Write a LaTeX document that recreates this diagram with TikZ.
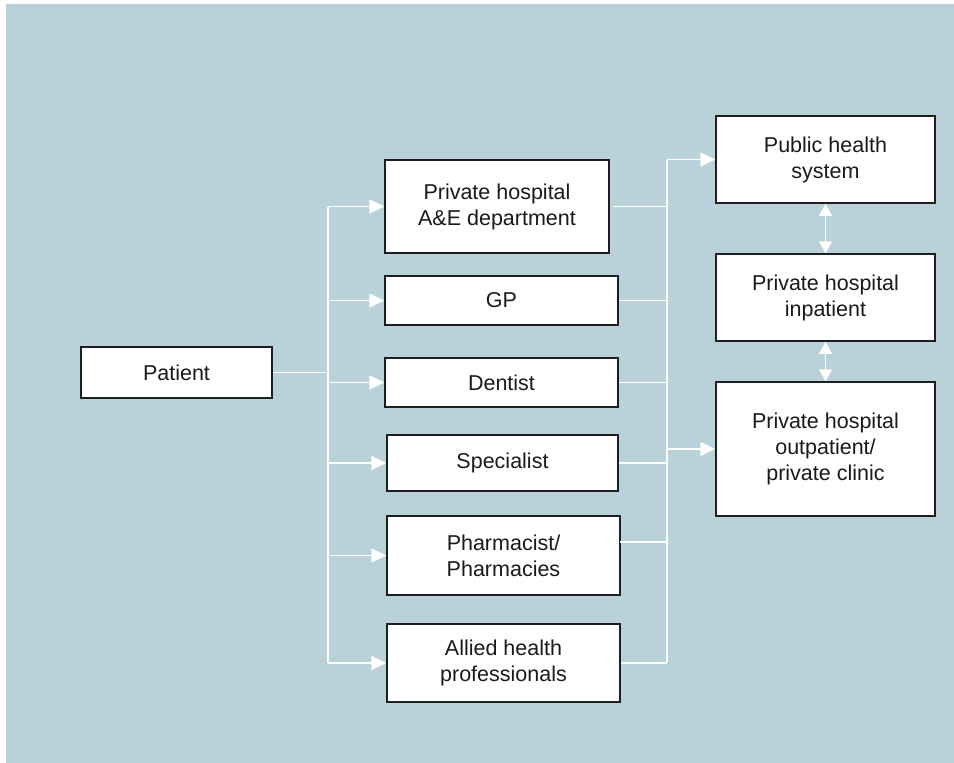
\documentclass[tikz,border=0pt]{standalone}
\usepackage{fontspec}
\setmainfont{Liberation Sans}
\usetikzlibrary{arrows.meta}
\definecolor{bgpanel}{HTML}{B9D1D8}
\definecolor{boxline}{HTML}{1E1E1E}
\definecolor{txt}{HTML}{1A1A1A}
\begin{document}
\begin{tikzpicture}[x=1pt,y=-1pt,
  box/.style={draw=boxline,line width=1.5pt,fill=white,inner sep=0pt,align=center,
    text=txt,font=\fontsize{21.5}{26}\selectfont},
  conn/.style={draw=white,line width=1.6pt},
  arr/.style={conn,-{Triangle[length=15pt,width=14pt,fill=white]}},
  darr/.style={conn,{Triangle[length=12pt,width=13pt,fill=white]}-{Triangle[length=12pt,width=13pt,fill=white]}}]
\useasboundingbox (0,0) rectangle (954,763);
\fill[bgpanel] (6,4) rectangle (954,763);

\node[box,minimum width=191pt,minimum height=51pt] (patient) at (176.5,372.5) {Patient};
\node[box,minimum width=224pt,minimum height=93pt] (ae) at (497,206.5) {Private hospital\\A\&E department};
\node[box,minimum width=233pt,minimum height=49pt] (gp) at (501.5,300.5) {GP};
\node[box,minimum width=233pt,minimum height=49pt] (dent) at (501.5,382.5) {Dentist};
\node[box,minimum width=231pt,minimum height=56pt] (spec) at (502.5,463) {Specialist};
\node[box,minimum width=233pt,minimum height=79pt] (pharm) at (503.5,555.5) {Pharmacist/\\Pharmacies};
\node[box,minimum width=233pt,minimum height=78pt] (allied) at (503.5,663) {Allied health\\professionals};
\node[box,minimum width=219pt,minimum height=87pt] (pub) at (825.5,159.5) {Public health\\system};
\node[box,minimum width=219pt,minimum height=87pt] (inp) at (825.5,297.5) {Private hospital\\inpatient};
\node[box,minimum width=219pt,minimum height=134pt] (out) at (825.5,449) {Private hospital\\outpatient/\\private clinic};

% left bus
\coordinate (lbtop) at (328,206.5);
\coordinate (lbbot) at (328,663);
\draw[conn] (patient.east) -- (patient.east -| lbtop);
\draw[conn] (lbtop) -- (lbbot);
\foreach \n in {ae,gp,dent,spec,pharm,allied}
  \draw[arr] (\n.west -| lbtop) -- (\n.west);

% right bus
\coordinate (rbtop) at (667,159.5);
\coordinate (rbbot) at (667,662);
\coordinate (pharmout) at (620,542);
\draw[conn] (rbtop) -- (rbbot);
\draw[conn] ([xshift=3pt]ae.east) -- (ae.east -| rbtop);
\foreach \n in {gp,dent,spec,allied}
  \draw[conn] (\n.east) -- (\n.east -| rbtop);
\draw[conn] (pharmout) -- (pharmout -| rbtop);
\draw[arr] (rbtop) -- (pub.west);
\draw[arr] (out.west -| rbtop) -- (out.west);

% double arrows
\draw[darr] (pub.south) -- (inp.north);
\draw[darr] (inp.south) -- (out.north);
\end{tikzpicture}
\end{document}
